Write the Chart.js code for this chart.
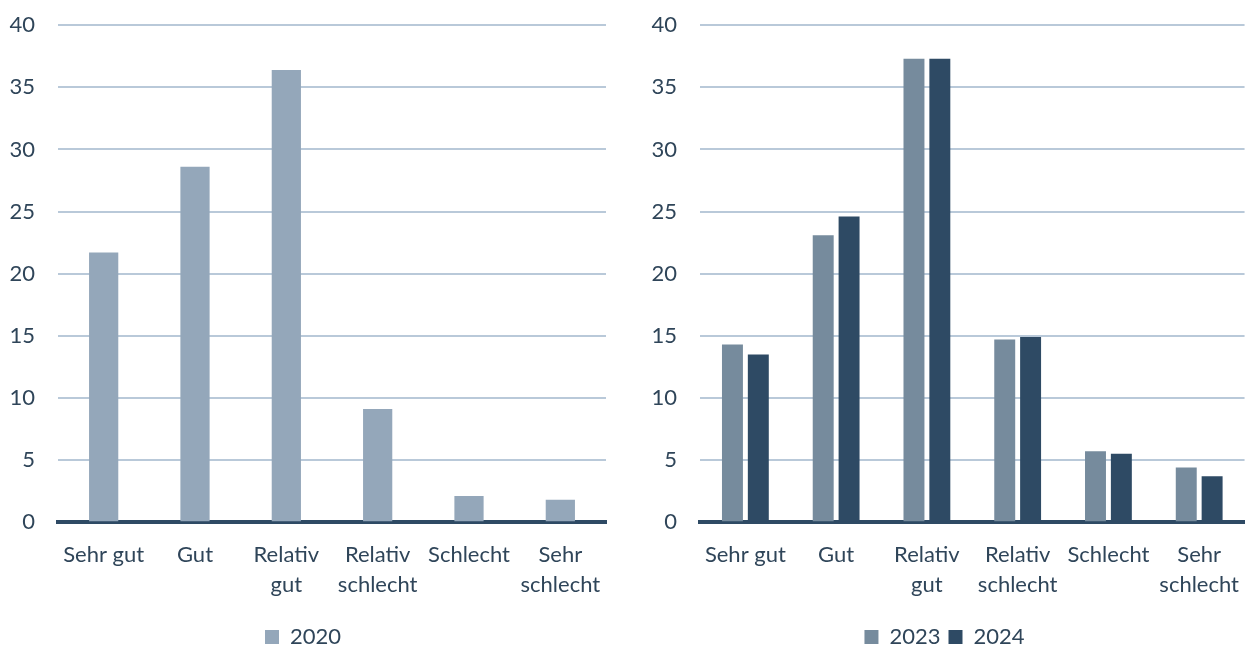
<!DOCTYPE html>
<html>
<head>
<meta charset="utf-8">
<script src="https://cdn.jsdelivr.net/npm/chart.js@4"></script>
<style>
  body { margin: 0; background: #fff; overflow: hidden; }
  .box { position: absolute; top: -11px; height: 657px; }
</style>
</head>
<body>
<div class="box" style="left:0;width:620px"><canvas id="left"></canvas></div>
<div class="box" style="left:640px;width:609px"><canvas id="right"></canvas></div>
<script>
const categories = ['Sehr gut', 'Gut', ['Relativ', 'gut'], ['Relativ', 'schlecht'], 'Schlecht', ['Sehr', 'schlecht']]
const yTicks = [0, 5, 10, 15, 20, 25, 30, 35, 40]
const values2020 = [21.7, 28.6, 36.4, 9.1, 2.1, 1.8]
const values2023 = [14.3, 23.1, 37.3, 14.7, 5.7, 4.4]
const values2024 = [13.5, 24.6, 37.3, 14.9, 5.5, 3.7]

const textColor = '#2f4559'
Chart.defaults.font.family = 'Lato, "Open Sans", sans-serif'
Chart.defaults.font.size = 22
Chart.defaults.color = textColor
Chart.defaults.animation = false

const makeOptions = (axisWidth, rightPad) => ({
  responsive: true,
  maintainAspectRatio: false,
  layout: { padding: { top: 0, right: rightPad, bottom: -12, left: 0 } },
  plugins: {
    legend: {
      position: 'bottom',
      labels: { boxWidth: 14, boxHeight: 14, padding: 8, color: textColor }
    },
    tooltip: { enabled: false }
  },
  scales: {
    x: {
      grid: { display: false },
      border: { color: '#2e4a64', width: 4 },
      afterFit: axis => { axis.height += 8 },
      ticks: { padding: 10, color: textColor, maxRotation: 0, autoSkip: false, font: { lineHeight: 1.36 } }
    },
    y: {
      min: 0,
      max: 40,
      afterBuildTicks: axis => { axis.ticks = yTicks.map(value => ({ value })) },
      afterFit: axis => { axis.width = axisWidth },
      grid: { color: '#b9c9d9', lineWidth: 2, drawTicks: false },
      border: { display: false },
      ticks: { padding: 23, color: textColor }
    }
  }
})

new Chart(document.getElementById('left'), {
  type: 'bar',
  data: {
    labels: categories,
    datasets: [
      { label: '2020', data: values2020, backgroundColor: '#94a7ba', barPercentage: 0.8, categoryPercentage: 0.4 }
    ]
  },
  options: makeOptions(58, 14)
})

new Chart(document.getElementById('right'), {
  type: 'bar',
  data: {
    labels: categories,
    datasets: [
      { label: '2023', data: values2023, backgroundColor: '#768b9d', barPercentage: 0.81, categoryPercentage: 0.57 },
      { label: '2024', data: values2024, backgroundColor: '#2e4a64', barPercentage: 0.81, categoryPercentage: 0.57 }
    ]
  },
  options: makeOptions(60, 0)
})
</script>
</body>
</html>
